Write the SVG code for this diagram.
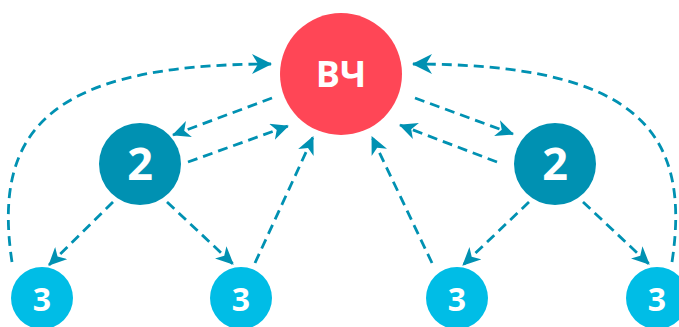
<svg xmlns="http://www.w3.org/2000/svg" width="679" height="327" viewBox="0 0 679 327">
<defs>
<style>
.c{fill:none;stroke:#0091b2;stroke-width:2.8;stroke-dasharray:10 6}
.t{fill:#fff;font-family:"Open Sans","DejaVu Sans",sans-serif;font-weight:bold;text-anchor:middle}
</style>
<marker id="a" markerUnits="userSpaceOnUse" markerWidth="18" markerHeight="17" refX="17" refY="8.5" orient="auto" viewBox="0 0 18 17">
<path d="M0,0 L18,8.5 L0,17 L5,8.5 z" fill="#0091b2"/>
</marker>
<marker id="b" markerUnits="userSpaceOnUse" markerWidth="20" markerHeight="20" refX="19" refY="10" orient="auto" viewBox="0 0 20 20">
<path d="M0,0 L20,10 L0,20 L6,10 z" fill="#0091b2"/>
</marker>
</defs>
<rect width="679" height="327" fill="#fff"/>
<g id="connectors">
<path class="c" marker-end="url(#a)" d="M272,98 L173,135"/>
<path class="c" marker-end="url(#a)" d="M188,162 L288,126"/>
<path class="c" marker-end="url(#a)" d="M113,202 L49,265"/>
<path class="c" marker-end="url(#a)" d="M167,202 L233,264"/>
<path class="c" marker-end="url(#a)" d="M255,263 L313,137"/>
<path class="c" marker-end="url(#b)" d="M12,262 C-8,130 50,64 271,64"/>
<path class="c" marker-end="url(#a)" d="M415,98 L513,134"/>
<path class="c" marker-end="url(#a)" d="M497,162 L400,125"/>
<path class="c" marker-end="url(#a)" d="M529,202 L463,265"/>
<path class="c" marker-end="url(#a)" d="M583,202 L649,264"/>
<path class="c" marker-end="url(#a)" d="M432,263 L372,137"/>
<path class="c" marker-end="url(#b)" d="M672,262 C692,130 635,64 413,64"/>
</g>
<g id="vch"><circle cx="341" cy="74" r="61" fill="#ff4656"/><text class="t" x="341" y="87" font-size="36">ВЧ</text></g>
<g id="n2a"><circle cx="140" cy="164" r="41" fill="#0091b2"/><text class="t" x="140" y="180" font-size="45">2</text></g>
<g id="n2b"><circle cx="555" cy="164" r="41" fill="#0091b2"/><text class="t" x="555" y="180" font-size="45">2</text></g>
<g id="n3a"><circle cx="42" cy="298" r="31" fill="#00bde6"/><text class="t" x="42" y="311" font-size="32">3</text></g>
<g id="n3b"><circle cx="241" cy="298" r="31" fill="#00bde6"/><text class="t" x="241" y="311" font-size="32">3</text></g>
<g id="n3c"><circle cx="457" cy="298" r="31" fill="#00bde6"/><text class="t" x="457" y="311" font-size="32">3</text></g>
<g id="n3d"><circle cx="657" cy="298" r="31" fill="#00bde6"/><text class="t" x="657" y="311" font-size="32">3</text></g>
</svg>
